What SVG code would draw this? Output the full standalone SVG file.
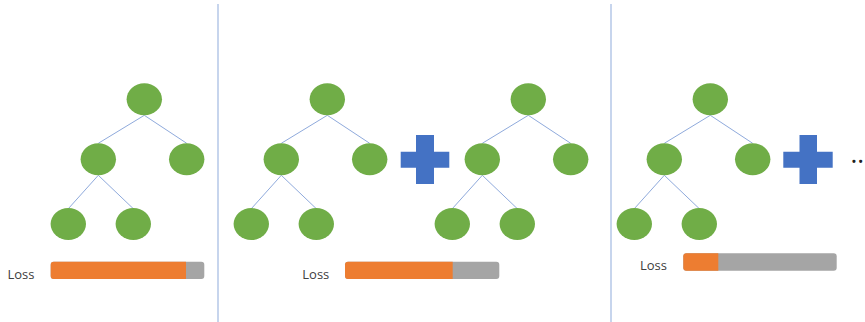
<svg xmlns="http://www.w3.org/2000/svg" width="865" height="322" viewBox="0 0 865 322">
<defs>
<style>
.n{fill:#70ad47}
.e{stroke:#8faadc;stroke-width:1;fill:none}
.sep{stroke:#b4c7e7;stroke-width:1.5}
.plus{fill:#4472c4}
.bg{fill:#a5a5a5}
.fg{fill:#ed7d31}
.t{font-family:"Open Sans","Liberation Sans",sans-serif;font-size:13px;fill:#404040}
</style>
<g id="tree">
<ellipse class="n" cx="0" cy="0" rx="17.7" ry="16"/>
<ellipse class="n" cx="-46" cy="60" rx="17.7" ry="16"/>
<ellipse class="n" cx="42.4" cy="60" rx="17.7" ry="16"/>
<ellipse class="n" cx="-76" cy="124.7" rx="17.7" ry="16"/>
<ellipse class="n" cx="-11" cy="124.7" rx="17.7" ry="16"/>
</g>
</defs>
<rect width="865" height="322" fill="#ffffff"/>
<g id="separators">
<line class="sep" x1="218" y1="4" x2="218" y2="322"/>
<line class="sep" x1="611" y1="4" x2="611" y2="322"/>
</g>
<g id="connectors">
<path class="e" d="M144.3,115.3L98.3,143.3M144.3,115.3L186.7,143.3M98.3,175.3L68.3,208.7M98.3,175.3L133.3,208.7"/>
<path class="e" d="M327.3,115.3L281.3,143.3M327.3,115.3L369.7,143.3M281.3,175.3L251.3,208.7M281.3,175.3L316.3,208.7"/>
<path class="e" d="M528.3,115.3L482.3,143.3M528.3,115.3L570.7,143.3M482.3,175.3L452.3,208.7M482.3,175.3L517.3,208.7"/>
<path class="e" d="M710.3,115.3L664.3,143.3M710.3,115.3L752.7,143.3M664.3,175.3L634.3,208.7M664.3,175.3L699.3,208.7"/>
</g>
<g id="tree1"><use href="#tree" x="144.3" y="99.3"/></g>
<g id="tree2"><use href="#tree" x="327.3" y="99.3"/></g>
<g id="tree3"><use href="#tree" x="528.3" y="99.3"/></g>
<g id="tree4"><use href="#tree" x="710.3" y="99.3"/></g>
<g id="plus1"><path class="plus" d="M416,135H434V151.7H449.3V167.7H434V184H416V167.7H400.7V151.7H416Z"/></g>
<g id="plus2"><path class="plus" d="M799.5,135H817V151.7H832.7V167.7H817V184H799.5V167.7H783.3V151.7H799.5Z"/></g>
<g id="ellipsis"><text x="850.5" y="163" style="font-family:'Open Sans','Liberation Sans',sans-serif;font-size:26px;fill:#202020">...</text></g>
<g id="loss1">
<text class="t" x="7.5" y="278.5">Loss</text>
<rect class="bg" x="50.7" y="261.7" width="153.6" height="17.3" rx="3"/>
<path class="fg" d="M53.7,261.7H186V279H53.7A3,3 0 0 1 50.7,276V264.7A3,3 0 0 1 53.7,261.7Z"/>
</g>
<g id="loss2">
<text class="t" x="302.3" y="278.5">Loss</text>
<rect class="bg" x="345" y="261.7" width="154.3" height="17.3" rx="3"/>
<path class="fg" d="M348,261.7H452.7V279H348A3,3 0 0 1 345,276V264.7A3,3 0 0 1 348,261.7Z"/>
</g>
<g id="loss3">
<text class="t" x="640" y="270">Loss</text>
<rect class="bg" x="683.3" y="253.3" width="153.4" height="17.4" rx="3"/>
<path class="fg" d="M686.3,253.3H718.3V270.7H686.3A3,3 0 0 1 683.3,267.7V256.3A3,3 0 0 1 686.3,253.3Z"/>
</g>
</svg>
